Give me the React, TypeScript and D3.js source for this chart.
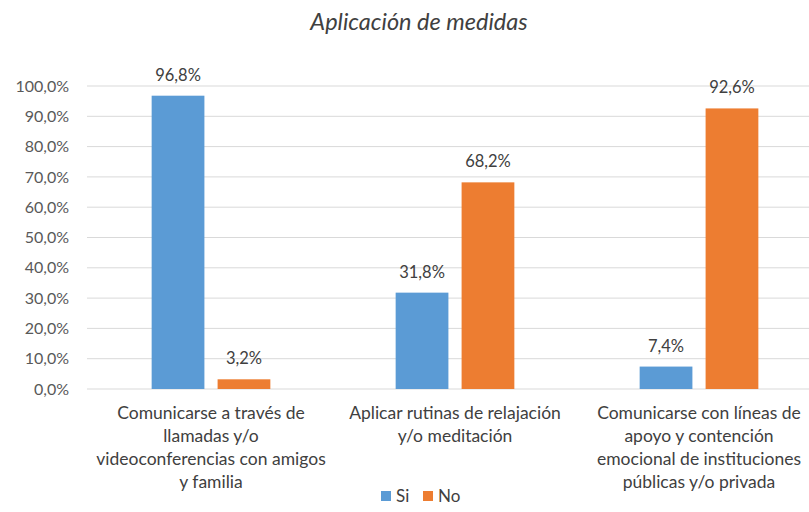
import React from "react";
import * as d3 from "d3";

const categories = [
  ["Comunicarse a través de", "llamadas y/o", "videoconferencias con amigos", "y familia"],
  ["Aplicar rutinas de relajación", "y/o meditación"],
  ["Comunicarse con líneas de", "apoyo y contención", "emocional de instituciones", "públicas y/o privada"],
];
const seriesNames = ["Si", "No"];
const siValues = [96.8, 31.8, 7.4];
const noValues = [3.2, 68.2, 92.6];
const yTicks = [0, 10, 20, 30, 40, 50, 60, 70, 80, 90, 100];
const colors = ["#5B9BD5", "#ED7D31"];

const W = 809;
const H = 512;
const FONT = "Lato, 'Open Sans', sans-serif";

export default function App() {
  const x = d3.scaleBand<number>().domain([0, 1, 2]).range([89, 821]).paddingInner(0).paddingOuter(0);
  const inner = d3.scaleBand<number>().domain([0, 1]).range([0, x.bandwidth()]).paddingInner(0.2).paddingOuter(0.95);
  const y = d3.scaleLinear().domain([0, 100]).range([389, 86]);
  const fmt = (v: number) => v.toFixed(1).replace(".", ",") + "%";
  const series = [siValues, noValues];

  return (
    <svg width={W} height={H} style={{ position: "absolute", left: 0, top: 0, background: "#fff" }} fontFamily={FONT}>
      <text x={419} y={30} textAnchor="middle" fontSize={23.5} fontStyle="italic" fill="#404040">
        Aplicación de medidas
      </text>
      {yTicks.map((t) => (
        <g key={t}>
          <line x1={87} x2={W} y1={y(t)} y2={y(t)} stroke="#d9d9d9" strokeWidth={1} />
          <text x={69} y={y(t)} dy="0.35em" textAnchor="end" fontSize={16} fill="#595959">
            {fmt(t)}
          </text>
        </g>
      ))}
      {series.map((vals, si) =>
        vals.map((v, ci) => {
          const bx = (x(ci) as number) + (inner(si) as number);
          const bw = inner.bandwidth();
          return (
            <g key={`${si}-${ci}`}>
              <rect x={bx} y={y(v)} width={bw} height={y(0) - y(v)} fill={colors[si]} />
              <text x={bx + bw / 2} y={y(v) - 15} textAnchor="middle" fontSize={16.5} fill="#404040">
                {fmt(v)}
              </text>
            </g>
          );
        })
      )}
      {categories.map((lines, ci) => (
        <text key={ci} textAnchor="middle" fontSize={17.5} fill="#404040">
          {lines.map((l, li) => (
            <tspan key={li} x={(x(ci) as number) + x.bandwidth() / 2} y={419 + li * 23}>
              {l}
            </tspan>
          ))}
        </text>
      ))}
      {seriesNames.map((n, i) => (
        <g key={n} transform={`translate(${381 + i * 42},${491})`}>
          <rect x={0} y={0} width={10} height={10} fill={colors[i]} />
          <text x={15} y={10.5} fontSize={17} fill="#404040">
            {n}
          </text>
        </g>
      ))}
    </svg>
  );
}
